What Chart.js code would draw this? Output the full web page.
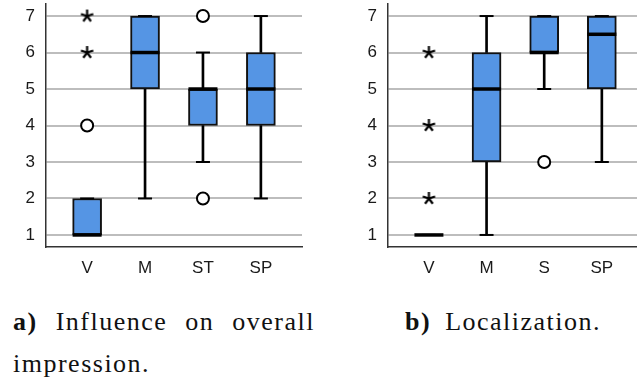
<!DOCTYPE html>
<html>
<head>
<script src="https://cdn.jsdelivr.net/npm/chart.js"></script>
<style>
    body {
        margin: 0;
        background: #fff;
        width: 637px;
        height: 385px;
        position: relative;
        overflow: hidden;
    }
    .plot {
        position: absolute;
        top: 0;
        height: 290px;
    }
    #plotA { left: 0; width: 310px; }
    #plotB { left: 320px; width: 317px; }
    .caption {
        position: absolute;
        top: 301px;
        font-family: 'Liberation Serif', serif;
        font-size: 26px;
        line-height: 42px;
        letter-spacing: 1.5px;
        color: #111;
    }
    #capA { left: 13px; width: 302px; text-align: justify; }
    #capB { left: 405px; word-spacing: 6px; }
</style>
</head>
<body>
    <div class="plot" id="plotA"><canvas id="chartA"></canvas></div>
    <div class="plot" id="plotB"><canvas id="chartB"></canvas></div>
    <div class="caption" id="capA"><b>a)</b> Influence on overall impression.</div>
    <div class="caption" id="capB"><b>b)</b> Localization.</div>

<script>
    // a) Influence on overall impression
    const catsA = ['V', 'M', 'ST', 'SP'];
    const q1A = [1, 5, 4, 4];
    const medA = [1, 6, 5, 5];
    const q3A = [2, 7, 5, 6];
    const loA = [1, 2, 3, 2];
    const hiA = [2, 7, 6, 7];
    const circlesA = [[1, 4], [3, 7], [3, 2]];   // [category no., value]
    const starsA = [[1, 6], [1, 7]];

    // b) Localization
    const catsB = ['V', 'M', 'S', 'SP'];
    const q1B = [1, 3, 6, 5];
    const medB = [1, 5, 6, 6.5];
    const q3B = [1, 6, 7, 7];
    const loB = [1, 1, 5, 3];
    const hiB = [1, 7, 7, 7];
    const circlesB = [[3, 3]];
    const starsB = [[1, 2], [1, 4], [1, 6]];

    const yTicks = [1, 2, 3, 4, 5, 6, 7];

    // five-armed asterisk marker for extreme values
    function makeStar() {
        const c = document.createElement('canvas');
        c.width = 15; c.height = 15;
        const g = c.getContext('2d');
        g.strokeStyle = '#000';
        g.lineWidth = 2.2;
        g.beginPath();
        for (let k = 0; k < 5; k++) {
            const a = -Math.PI / 2 + k * 2 * Math.PI / 5;
            g.moveTo(7.5, 7.5);
            g.lineTo(7.5 + 6.5 * Math.cos(a), 7.5 + 6.5 * Math.sin(a));
        }
        g.stroke();
        return c;
    }
    const starImg = makeStar();

    function boxChart(id, cats, q1, med, q3, lo, hi, circles, stars, axisW, rightPad, xMax) {
        const xs = cats.map((_, i) => i + 1);
        const whiskers = [];
        xs.forEach((x, i) => {
            whiskers.push({x: x, y: [lo[i], q1[i]]});
            whiskers.push({x: x, y: [q3[i], hi[i]]});
        });
        const caps = [];
        xs.forEach((x, i) => {
            caps.push({x: x, y: lo[i]});
            caps.push({x: x, y: hi[i]});
        });

        return new Chart(document.getElementById(id), {
            type: 'bar',
            data: {
                datasets: [
                    {
                        type: 'scatter',
                        data: circles.map(p => ({x: p[0], y: p[1]})),
                        pointStyle: 'circle',
                        pointRadius: 6,
                        backgroundColor: '#fff',
                        borderColor: '#000',
                        borderWidth: 2,
                        order: 0
                    },
                    {
                        type: 'scatter',
                        data: stars.map(p => ({x: p[0], y: p[1]})),
                        pointStyle: starImg,
                        order: 0
                    },
                    {
                        type: 'scatter',
                        data: xs.map((x, i) => ({x: x, y: med[i]})),
                        pointStyle: 'line',
                        pointRadius: 14.5,
                        borderColor: '#000',
                        borderWidth: 3.5,
                        order: 1
                    },
                    {
                        type: 'scatter',
                        data: caps,
                        pointStyle: 'line',
                        pointRadius: 7,
                        borderColor: '#000',
                        borderWidth: 2,
                        order: 2
                    },
                    {
                        data: xs.map((x, i) => ({x: x, y: [q1[i], q3[i]]})),
                        backgroundColor: '#5595e4',
                        borderColor: '#111',
                        borderWidth: 2,
                        borderSkipped: false,
                        barThickness: 29,
                        grouped: false,
                        order: 3
                    },
                    {
                        data: whiskers,
                        backgroundColor: '#000',
                        borderWidth: 0,
                        barThickness: 2,
                        grouped: false,
                        order: 4
                    }
                ]
            },
            options: {
                responsive: true,
                maintainAspectRatio: false,
                animation: false,
                events: [],
                layout: {autoPadding: false, padding: {top: 4, right: rightPad, left: 0, bottom: 0}},
                plugins: {legend: {display: false}, tooltip: {enabled: false}},
                scales: {
                    x: {
                        type: 'linear',
                        offset: false,
                        min: 0.29,
                        max: xMax,
                        afterBuildTicks: s => { s.ticks = xs.map(v => ({value: v})); },
                        afterFit: s => {
                            s.height = 43;
                            s.paddingLeft = 0;
                            s.paddingRight = 0;
                        },
                        ticks: {
                            callback: v => cats[v - 1],
                            color: '#1a1a1a',
                            padding: 11,
                            maxRotation: 0,
                            font: {family: 'Liberation Sans', size: 17}
                        },
                        grid: {drawOnChartArea: false, drawTicks: false},
                        border: {color: '#333', width: 1.5}
                    },
                    y: {
                        min: 0.67,
                        max: 7.33,
                        afterBuildTicks: s => { s.ticks = yTicks.map(v => ({value: v})); },
                        afterFit: s => {
                            s.width = axisW;
                            s.paddingTop = 0;
                            s.paddingBottom = 0;
                        },
                        ticks: {
                            color: '#1a1a1a',
                            padding: 11,
                            font: {family: 'Liberation Sans', size: 17}
                        },
                        grid: {color: '#bdbdbd', lineWidth: 2, drawTicks: false},
                        border: {color: '#333', width: 1.5}
                    }
                }
            }
        });
    }

    boxChart('chartA', catsA, q1A, medA, q3A, loA, hiA, circlesA, starsA, 46, 8, 4.71);
    boxChart('chartB', catsB, q1B, medB, q3B, loB, hiB, circlesB, starsB, 68, 0, 4.61);
</script>
</body>
</html>
